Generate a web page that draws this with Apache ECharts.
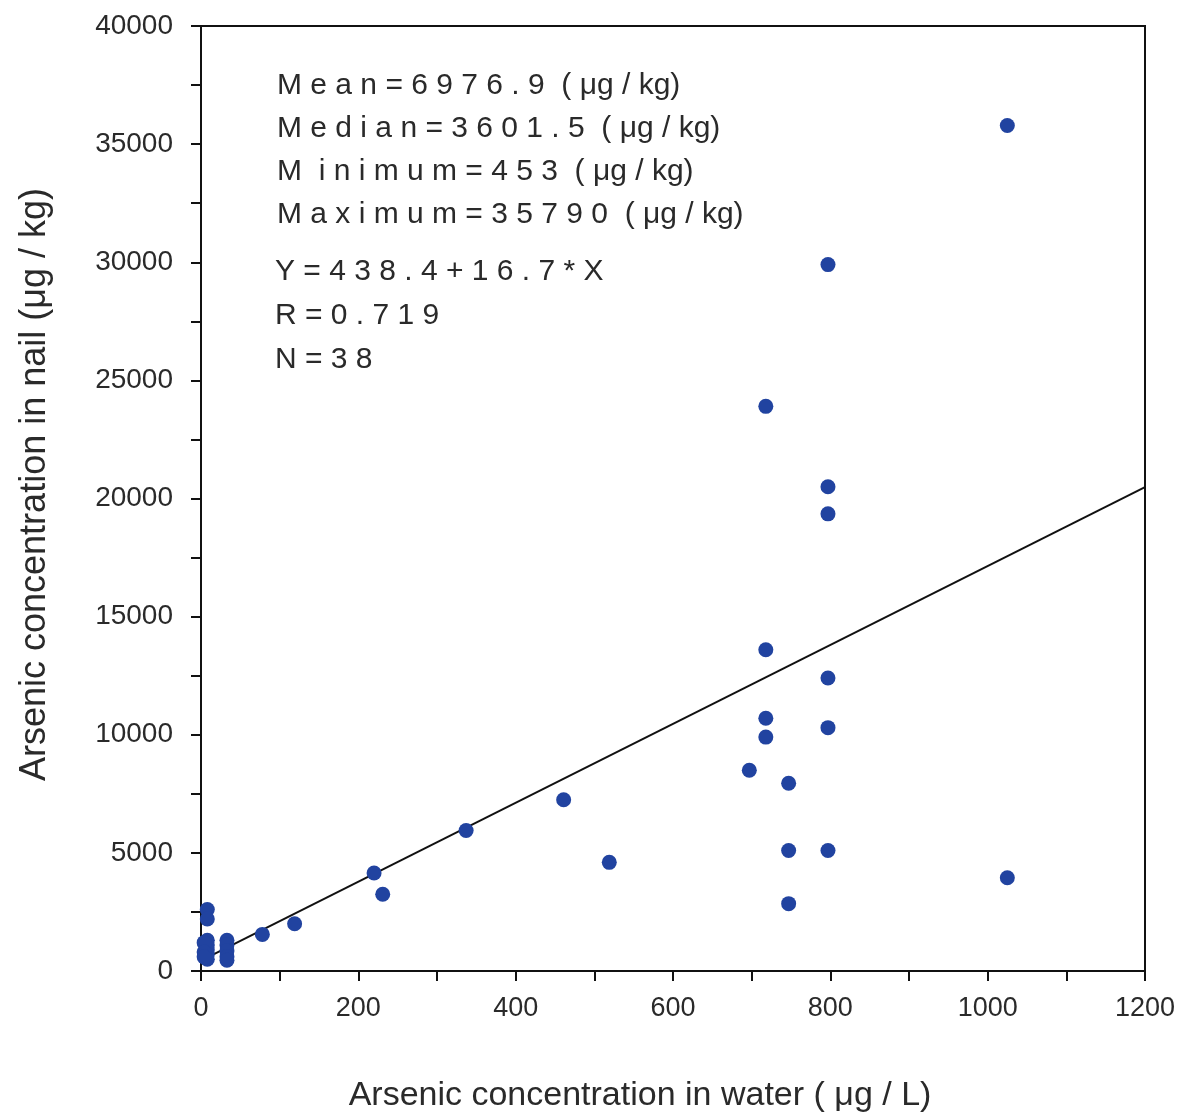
<!DOCTYPE html>
<html>
<head>
<meta charset="utf-8">
<script src="https://cdn.jsdelivr.net/npm/echarts@6/dist/echarts.min.js"></script>
<style>
  html, body { margin: 0; padding: 0; background: #fff; }
  #chart { width: 1182px; height: 1119px; }
</style>
</head>
<body>
<div id="chart"></div>
<script>
// arsenic in water (ug/L) vs arsenic in nail (ug/kg)
const waterAs = [
  1025, 797, 718, 797, 797, 718, 797, 718, 797, 718,
  697, 747, 461, 337, 519, 747, 797, 1025, 747, 220,
  231, 78, 119,
  8, 8, 8, 8, 8, 8, 8,
  33, 33, 33, 33, 33,
  4, 4, 4
]
const nailAs = [
  35790, 29900, 23900, 20500, 19350, 13600, 12400, 10700, 10300, 9900,
  8500, 7950, 7250, 5950, 4600, 5100, 5100, 3950, 2850, 4150,
  3250, 1550, 2000,
  2600, 2200, 1300, 1100, 900, 700, 500,
  1300, 1100, 850, 600, 453,
  1200, 800, 600
]
// regression Y = 438.4 + 16.7 * X
const fitIntercept = 438.4
const fitSlope = 16.7
const fitX = [0, 1200]

const statsLines = [
  'M e a n = 6 9 7 6 . 9  ( μg / kg)',
  'M e d i a n = 3 6 0 1 . 5  ( μg / kg)',
  'M  i n i m u m = 4 5 3  ( μg / kg)',
  'M a x i m u m = 3 5 7 9 0  ( μg / kg)'
]
const fitLines = [
  'Y = 4 3 8 . 4 + 1 6 . 7 * X',
  'R = 0 . 7 1 9',
  'N = 3 8'
]

const font = 'Liberation Sans, Arial, sans-serif'
const ink = '#2a2a2a'
const chart = echarts.init(document.getElementById('chart'))

const points = waterAs.map((x, i) => [x, nailAs[i]])
const fitLine = fitX.map(x => [x, fitIntercept + fitSlope * x])

const textStyle = { fontFamily: font, fontSize: 30, fill: ink }
const graphic = []
statsLines.forEach((t, i) => {
  graphic.push({ type: 'text', left: 277, top: 71 + i * 43, style: Object.assign({ text: t }, textStyle) })
})
fitLines.forEach((t, i) => {
  graphic.push({ type: 'text', left: 275, top: 257 + i * 44, style: Object.assign({ text: t }, textStyle) })
})

const tickStyle = { color: '#111', width: 2 }

chart.setOption({
  animation: false,
  backgroundColor: '#fff',
  grid: {
    left: 201, right: 37, top: 26, bottom: 148,
    show: true, borderColor: '#111', borderWidth: 2
  },
  xAxis: {
    type: 'value', min: 0, max: 1200, interval: 200,
    name: 'Arsenic concentration in water ( μg / L)',
    nameLocation: 'middle', nameGap: 108,
    nameTextStyle: { fontFamily: font, fontSize: 34, color: ink, padding: [0, 66, 0, 0] },
    axisLine: { show: true, lineStyle: tickStyle },
    axisTick: { show: true, length: 10, lineStyle: tickStyle },
    minorTick: { show: true, splitNumber: 2, length: 10, lineStyle: tickStyle },
    splitLine: { show: false },
    axisLabel: { fontFamily: font, fontSize: 27, color: ink, margin: 24, formatter: v => String(v) }
  },
  yAxis: {
    type: 'value', min: 0, max: 40000, interval: 5000,
    name: 'Arsenic concentration in nail (μg / kg)',
    nameLocation: 'middle', nameGap: 148,
    nameTextStyle: { fontFamily: font, fontSize: 36, color: ink, padding: [0, 0, 0, 28] },
    axisLine: { show: true, lineStyle: tickStyle },
    axisTick: { show: true, length: 10, lineStyle: tickStyle },
    minorTick: { show: true, splitNumber: 2, length: 10, lineStyle: tickStyle },
    splitLine: { show: false },
    axisLabel: { fontFamily: font, fontSize: 28, color: ink, margin: 28, formatter: v => String(v) }
  },
  graphic: graphic,
  series: [
    {
      type: 'line',
      data: fitLine,
      symbol: 'none',
      lineStyle: { color: '#111', width: 2 },
      z: 2
    },
    {
      type: 'scatter',
      data: points,
      symbol: 'circle',
      symbolSize: 15,
      itemStyle: { color: '#2143a0', opacity: 1 },
      z: 3
    }
  ]
})
</script>
</body>
</html>
